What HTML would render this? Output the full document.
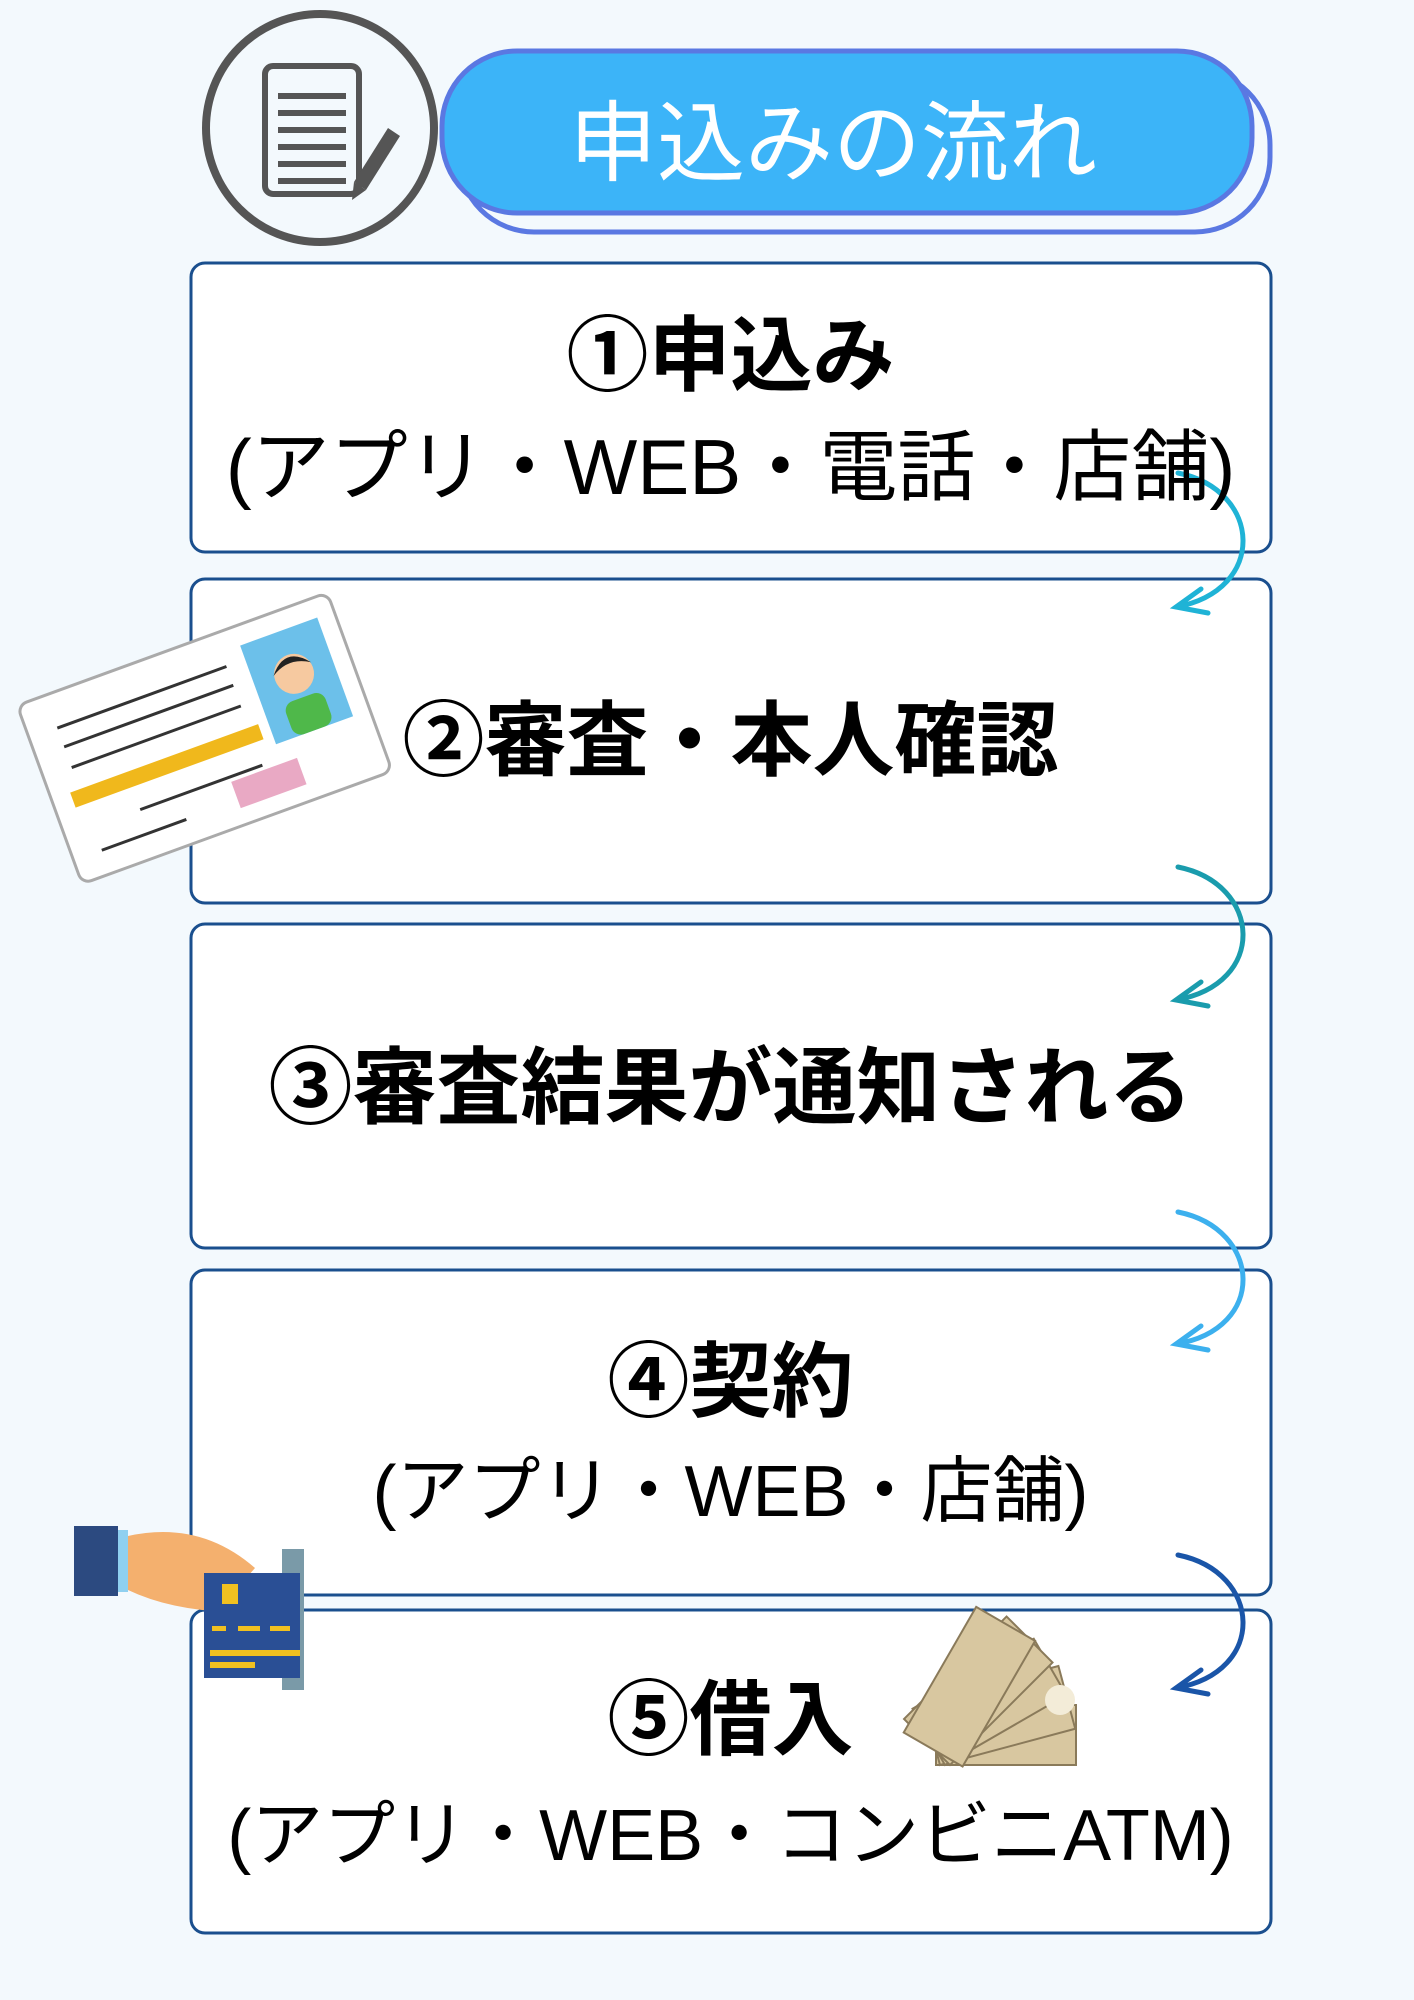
<!DOCTYPE html>
<html><head><meta charset="utf-8"><style>
body{margin:0;background:#f3f9fd;}
#c{position:relative;width:1414px;height:2000px;overflow:hidden;background:#f3f9fd;font-family:"Liberation Sans","Noto Sans CJK JP",sans-serif;}
.t{position:absolute;left:190px;width:1081px;text-align:center;color:#000;white-space:nowrap;}
.b{font-weight:bold;font-size:82px;line-height:82px;}
.r{font-size:72px;line-height:74px;}
svg{position:absolute;left:0;top:0;}
</style></head><body><div id="c">
<svg width="1414" height="2000" viewBox="0 0 1414 2000">
 <rect x="459" y="70" width="811" height="162" rx="75" fill="#f3f9fd" stroke="#5a78e2" stroke-width="5"/>
 <rect x="442" y="51" width="810" height="162" rx="75" fill="#3cb4f8" stroke="#5a78e2" stroke-width="5"/>
 <circle cx="320" cy="128" r="114" fill="#f3f9fd" stroke="#555" stroke-width="8"/>
 <rect x="265" y="66" width="94" height="128" rx="8" fill="none" stroke="#555" stroke-width="6"/>
 <g stroke="#555" stroke-width="6">
  <line x1="278" y1="96" x2="346" y2="96"/><line x1="278" y1="113" x2="346" y2="113"/>
  <line x1="278" y1="130" x2="346" y2="130"/><line x1="278" y1="147" x2="346" y2="147"/>
  <line x1="278" y1="164" x2="346" y2="164"/><line x1="278" y1="181" x2="346" y2="181"/>
 </g>
 <polygon points="388,128 400,136 366,190 354,182" fill="#555"/>
 <polygon points="354,182 366,190 352,200" fill="#555"/>
 <g fill="#fff" stroke="#1a4f8e" stroke-width="3">
  <rect x="191" y="263" width="1080" height="289" rx="14"/>
  <rect x="191" y="579" width="1080" height="324" rx="14"/>
  <rect x="191" y="924" width="1080" height="324" rx="14"/>
  <rect x="191" y="1270" width="1080" height="325" rx="14"/>
  <rect x="191" y="1610" width="1080" height="323" rx="14"/>
 </g>
 <g fill="none" stroke-width="5" stroke-linecap="round">
  <path d="M1178,473 C1262,490 1268,590 1176,607 M1201,589 L1176,607 L1208,613" stroke="#1fb3d6"/>
  <path d="M1178,867 C1262,884 1268,984 1176,1000 M1201,982 L1176,1000 L1208,1006" stroke="#1a9cad"/>
  <path d="M1178,1212 C1262,1229 1268,1329 1176,1344 M1201,1326 L1176,1344 L1208,1350" stroke="#3cb0ee"/>
  <path d="M1178,1555 C1262,1572 1268,1672 1176,1688 M1201,1670 L1176,1688 L1208,1694" stroke="#1a55a8"/>
 </g>
 <g transform="rotate(-20 200 740)">
  <rect x="40" y="645" width="330" height="190" rx="10" fill="#fff" stroke="#aaa" stroke-width="3"/>
  <rect x="270" y="665" width="82" height="105" fill="#6cc0ea"/>
  <circle cx="311" cy="710" r="20" fill="#f6c9a0"/>
  <path d="M291,705 Q311,680 331,705 Q311,692 291,705Z" fill="#222"/>
  <rect x="290" y="735" width="42" height="35" rx="10" fill="#4fb84a"/>
  <rect x="60" y="745" width="200" height="16" fill="#f0b81c"/>
  <g stroke="#333" stroke-width="3">
   <line x1="70" y1="680" x2="250" y2="680"/><line x1="70" y1="700" x2="250" y2="700"/>
   <line x1="70" y1="722" x2="250" y2="722"/><line x1="120" y1="785" x2="250" y2="785"/>
   <line x1="70" y1="810" x2="160" y2="810"/>
  </g>
  <rect x="215" y="790" width="70" height="28" fill="#e9a9c4"/>
 </g>
 <rect x="74" y="1526" width="44" height="70" fill="#2c4a80"/>
 <rect x="118" y="1530" width="10" height="62" fill="#8fd0f0"/>
 <path d="M128,1536 Q200,1520 255,1568 L240,1585 L210,1580 Q200,1600 222,1600 L230,1612 Q170,1610 128,1590Z" fill="#f4b06e"/>
 <rect x="282" y="1549" width="22" height="141" fill="#7a9aa8"/>
 <rect x="204" y="1573" width="96" height="105" fill="#2a4f95"/>
 <rect x="222" y="1584" width="16" height="20" fill="#f0c020"/>
 <g fill="#f0c020"><rect x="210" y="1650" width="90" height="6"/><rect x="210" y="1662" width="45" height="6"/>
 <rect x="212" y="1626" width="14" height="5"/><rect x="238" y="1626" width="22" height="5"/><rect x="270" y="1626" width="20" height="5"/></g>
 <g fill="#d8c7a0" stroke="#8a7a5a" stroke-width="2">
  <rect x="936" y="1705" width="140" height="60"/>
  <g transform="rotate(-15 940 1765)"><rect x="940" y="1700" width="140" height="65"/></g>
  <g transform="rotate(-30 945 1765)"><rect x="945" y="1700" width="140" height="65"/></g>
  <g transform="rotate(-45 950 1765)"><rect x="950" y="1700" width="145" height="65"/></g>
  <g transform="rotate(-60 960 1765)"><rect x="960" y="1700" width="145" height="68"/></g>
 </g>
 <circle cx="1060" cy="1700" r="15" fill="#f3ecd8"/>
</svg>
<div style="position:absolute;left:428px;top:98px;width:810px;text-align:center;color:#fff;font-size:88px;line-height:92px;">申込みの流れ</div>
<div class="t b" style="top:316px;">①申込み</div>
<div class="t r" style="top:430px;font-size:78px;">(アプリ・WEB・電話・店舗)</div>
<div class="t b" style="top:701px;">②審査・本人確認</div>
<div class="t b" style="top:1047px;font-size:84px;">③審査結果が通知される</div>
<div class="t b" style="top:1342px;">④契約</div>
<div class="t r" style="top:1455px;">(アプリ・WEB・店舗)</div>
<div class="t b" style="top:1680px;">⑤借入</div>
<div class="t r" style="top:1799px;font-size:72px;">(アプリ・WEB・コンビニATM)</div>
</div></body></html>
